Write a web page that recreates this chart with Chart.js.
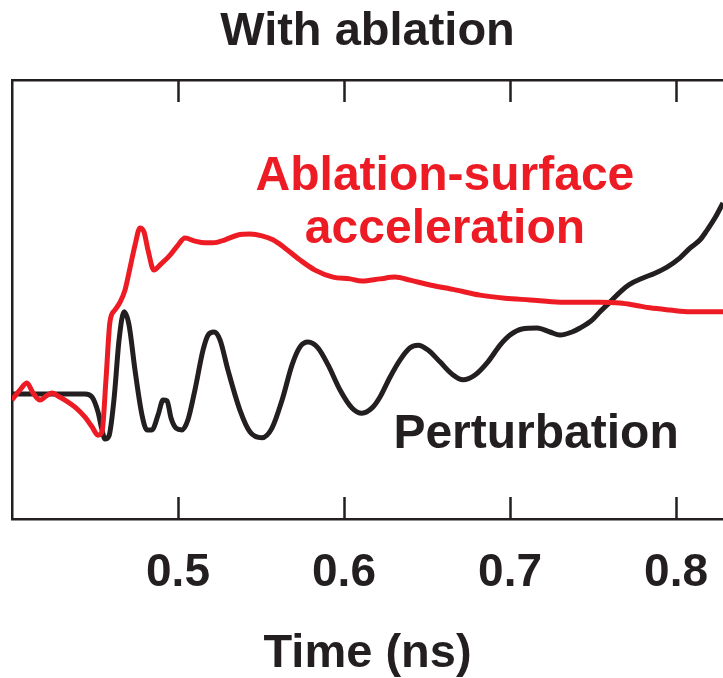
<!DOCTYPE html>
<html>
<head>
<meta charset="utf-8">
<script src="https://cdn.jsdelivr.net/npm/chart.js@4.4.1/dist/chart.umd.min.js"></script>
<style>
    html, body { margin: 0; padding: 0; background: #ffffff; }
    .grafico-container { position: relative; width: 723px; height: 678px; }
</style>
</head>
<body>
<div class="grafico-container">
    <canvas id="graficoAblacao" width="723" height="678"></canvas>
</div>
<script>
// Dados (tempo em ns, valor em unidades arbitrárias 0-10)
const tempoPerturbacao = [
    0.4000, 0.4440, 0.4482, 0.4518, 0.4542, 0.4560, 0.4584, 0.4614, 0.4645, 0.4675,
    0.4705, 0.4741, 0.4783, 0.4813, 0.4843, 0.4880, 0.4910, 0.4934, 0.4958, 0.4988,
    0.5024, 0.5060, 0.5102, 0.5151, 0.5181, 0.5217, 0.5253, 0.5301, 0.5373, 0.5434,
    0.5506, 0.5566, 0.5627, 0.5687, 0.5735, 0.5783, 0.5843, 0.5904, 0.5976, 0.6048,
    0.6108, 0.6169, 0.6217, 0.6277, 0.6337, 0.6398, 0.6446, 0.6506, 0.6578, 0.6651,
    0.6717, 0.6789, 0.6867, 0.6940, 0.7000, 0.7072, 0.7163, 0.7241, 0.7301, 0.7373,
    0.7422, 0.7494, 0.7542, 0.7602, 0.7663, 0.7723, 0.7801, 0.7873, 0.7946, 0.8024,
    0.8084, 0.8145, 0.8187, 0.8235, 0.8283
];
const valorPerturbacao = [
    2.85, 2.85, 2.78, 2.44, 2.03, 1.82, 1.89, 2.71, 4.08, 4.72,
    4.42, 3.39, 2.37, 2.03, 2.03, 2.37, 2.71, 2.69, 2.30, 2.07,
    2.03, 2.26, 2.94, 3.85, 4.19, 4.26, 4.08, 3.39, 2.48, 1.98,
    1.85, 2.07, 2.71, 3.51, 3.92, 4.03, 3.90, 3.51, 2.94, 2.53,
    2.41, 2.53, 2.78, 3.23, 3.62, 3.90, 3.96, 3.85, 3.58, 3.30,
    3.17, 3.28, 3.58, 3.96, 4.19, 4.33, 4.35, 4.26, 4.19, 4.26,
    4.35, 4.53, 4.72, 4.94, 5.17, 5.35, 5.49, 5.60, 5.74, 5.95,
    6.17, 6.36, 6.58, 6.86, 7.20
];

const tempoAceleracao = [
    0.4000, 0.4048, 0.4090, 0.4127, 0.4169, 0.4205, 0.4241, 0.4277, 0.4319, 0.4380,
    0.4440, 0.4482, 0.4518, 0.4542, 0.4566, 0.4590, 0.4620, 0.4651, 0.4681, 0.4711,
    0.4741, 0.4771, 0.4795, 0.4819, 0.4855, 0.4892, 0.4952, 0.5000, 0.5042, 0.5102,
    0.5163, 0.5211, 0.5283, 0.5361, 0.5434, 0.5506, 0.5572, 0.5645, 0.5735, 0.5825,
    0.5934, 0.6036, 0.6108, 0.6217, 0.6307, 0.6398, 0.6518, 0.6669, 0.6819, 0.6970,
    0.7120, 0.7301, 0.7542, 0.7663, 0.7753, 0.7843, 0.7964, 0.8084, 0.8283
];
const valorAceleracao = [
    2.71, 2.94, 3.10, 2.87, 2.71, 2.80, 2.87, 2.80, 2.71, 2.55,
    2.32, 2.10, 1.91, 1.98, 3.17, 4.49, 4.76, 4.94, 5.22, 5.72,
    6.24, 6.63, 6.54, 6.13, 5.67, 5.79, 6.01, 6.24, 6.40, 6.33,
    6.29, 6.29, 6.36, 6.47, 6.49, 6.45, 6.36, 6.17, 5.90, 5.67,
    5.51, 5.47, 5.42, 5.47, 5.51, 5.44, 5.33, 5.22, 5.10, 5.03,
    4.99, 4.94, 4.94, 4.92, 4.87, 4.81, 4.76, 4.72, 4.72
];

// Marcas do eixo X
const valoresTicksX = [0.5, 0.6, 0.7, 0.8];

const COR_PRETA = '#231f20';
const COR_VERMELHA = '#ed1c24';
const FONTE = "'Liberation Sans', Arial, Helvetica, sans-serif";

// Rótulos escritos dentro do gráfico, ancorados em coordenadas de dados
const rotulosInternos = [
    { texto: 'Ablation-surface', tempo: 0.6608, valor: 7.49, cor: COR_VERMELHA },
    { texto: 'acceleration', tempo: 0.6608, valor: 6.29, cor: COR_VERMELHA },
    { texto: 'Perturbation', tempo: 0.7157, valor: 1.62, cor: COR_PRETA }
];

/**
 * Desenha as marcas curtas para dentro (em cima e embaixo) e os rótulos das curvas.
 */
const pluginMarcasERotulos = {
    id: 'marcasERotulos',
    afterDraw(chart) {
        const { ctx, chartArea, scales } = chart;
        const escalaX = scales.x;
        const escalaY = scales.y;
        ctx.save();
        ctx.strokeStyle = COR_PRETA;
        ctx.lineWidth = 2.5;
        valoresTicksX.forEach(v => {
            const px = Math.round(escalaX.getPixelForValue(v)) + 0.5;
            ctx.beginPath();
            ctx.moveTo(px, chartArea.bottom);
            ctx.lineTo(px, chartArea.bottom - 22);
            ctx.moveTo(px, chartArea.top);
            ctx.lineTo(px, chartArea.top + 22);
            ctx.stroke();
        });

        ctx.font = `bold 48px ${FONTE}`;
        ctx.textAlign = 'center';
        ctx.textBaseline = 'alphabetic';
        rotulosInternos.forEach(r => {
            ctx.fillStyle = r.cor;
            ctx.fillText(r.texto, escalaX.getPixelForValue(r.tempo), escalaY.getPixelForValue(r.valor));
        });
        ctx.restore();
    }
};

function criarGraficoAblacao() {
    const canvas = document.getElementById('graficoAblacao');
    if (!canvas) {
        console.error('Elemento canvas #graficoAblacao não encontrado.');
        return;
    }

    const pontosPerturbacao = tempoPerturbacao.map((t, i) => ({ x: t, y: valorPerturbacao[i] }));
    const pontosAceleracao = tempoAceleracao.map((t, i) => ({ x: t, y: valorAceleracao[i] }));

    const minX = 0.4;
    const maxX = 0.8283;

    new Chart(canvas.getContext('2d'), {
        type: 'line',
        data: {
            datasets: [
                {
                    label: 'Ablation-surface acceleration',
                    data: pontosAceleracao,
                    borderColor: COR_VERMELHA,
                    borderWidth: 5,
                    pointRadius: 0,
                    cubicInterpolationMode: 'monotone',
                    fill: false
                },
                {
                    label: 'Perturbation',
                    data: pontosPerturbacao,
                    borderColor: COR_PRETA,
                    borderWidth: 5,
                    pointRadius: 0,
                    cubicInterpolationMode: 'monotone',
                    fill: false
                }
            ]
        },
        options: {
            responsive: false,
            animation: false,
            devicePixelRatio: 1,
            layout: { padding: 0 },
            scales: {
                x: {
                    type: 'linear',
                    position: 'bottom',
                    min: minX,
                    max: maxX,
                    afterBuildTicks: escala => {
                        escala.ticks = valoresTicksX.map(v => ({ value: v }));
                    },
                    afterFit: escala => {
                        // altura fixa e sem folga lateral: o gráfico é cortado na borda direita
                        escala.height = 159;
                        escala.paddingLeft = 0;
                        escala.paddingRight = 0;
                    },
                    grid: { display: false, drawTicks: false },
                    border: { display: true, color: COR_PRETA, width: 2.5 },
                    ticks: {
                        color: COR_PRETA,
                        padding: 27,
                        maxRotation: 0,
                        autoSkip: false,
                        font: { family: FONTE, size: 46, weight: 'bold' },
                        callback: v => Number(v).toFixed(1)
                    },
                    title: {
                        display: true,
                        text: 'Time (ns)',
                        color: COR_PRETA,
                        padding: 0,
                        font: { family: FONTE, size: 47, weight: 'bold', lineHeight: 1 }
                    }
                },
                xTopo: {
                    type: 'linear',
                    position: 'top',
                    min: minX,
                    max: maxX,
                    afterFit: escala => {
                        escala.height = 19.6;
                        escala.paddingLeft = 0;
                        escala.paddingRight = 0;
                    },
                    grid: { display: false, drawTicks: false },
                    border: { display: true, color: COR_PRETA, width: 2.5 },
                    ticks: { display: false }
                },
                y: {
                    type: 'linear',
                    min: 0,
                    max: 10,
                    afterFit: escala => {
                        escala.width = 12;
                        escala.paddingTop = 0;
                        escala.paddingBottom = 0;
                    },
                    grid: { display: false, drawTicks: false },
                    border: { display: true, color: COR_PRETA, width: 2.5 },
                    ticks: { display: false }
                }
            },
            plugins: {
                legend: { display: false },
                tooltip: { enabled: false },
                title: {
                    display: true,
                    text: 'With ablation',
                    fullSize: false,
                    color: COR_PRETA,
                    padding: { top: 4, bottom: 0 },
                    font: { family: FONTE, size: 47, weight: 'bold', lineHeight: 1.2 }
                }
            }
        },
        plugins: [pluginMarcasERotulos]
    });
}

document.addEventListener('DOMContentLoaded', () => {
    criarGraficoAblacao();
});
</script>
</body>
</html>
